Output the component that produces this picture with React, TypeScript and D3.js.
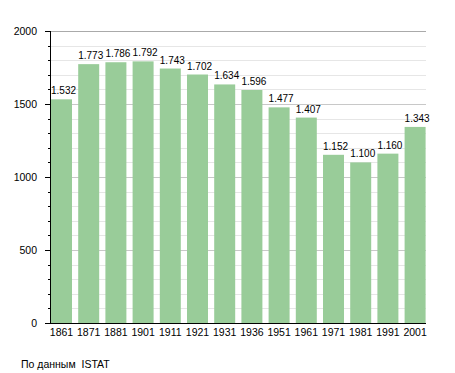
import React, { useEffect, useRef } from "react";
import * as d3 from "d3";

const years = ["1861", "1871", "1881", "1901", "1911", "1921", "1931", "1936", "1951", "1961", "1971", "1981", "1991", "2001"];
const population = [1532, 1773, 1786, 1792, 1743, 1702, 1634, 1596, 1477, 1407, 1152, 1100, 1160, 1343];
const yTicks = [0, 500, 1000, 1500, 2000];
const source = "По данным  ISTAT";

const App = () => {
  const svgRef = useRef<SVGSVGElement>(null);

  useEffect(() => {
    const width = 455, height = 373;
    const left = 50, right = 426, top = 31, bottom = 323;

    const svg = d3.select(svgRef.current);
    svg.selectAll("*").remove();
    svg.attr("width", width).attr("height", height);

    const font = "Liberation Sans, Arial, sans-serif";

    const x = d3.scaleBand<string>()
      .domain(years)
      .range([47.9, 428.7])
      .paddingInner(0.228)
      .paddingOuter(0.114);

    const y = d3.scaleLinear().domain([0, 2000]).range([bottom, top]);

    // grid lines every 100, darker every 500
    const grid = svg.append("g");
    d3.range(100, 2001, 100).forEach((v) => {
      grid.append("line")
        .attr("x1", left)
        .attr("x2", right)
        .attr("y1", Math.round(y(v)) + 0.5)
        .attr("y2", Math.round(y(v)) + 0.5)
        .attr("stroke", v === 2000 ? "#aaaaaa" : v % 500 === 0 ? "#c8c8c8" : "#e6e6e6")
        .attr("stroke-width", 1);
    });

    // bars
    svg.append("g")
      .selectAll("rect")
      .data(population)
      .enter()
      .append("rect")
      .attr("x", (d, i) => x(years[i])!)
      .attr("y", (d) => y(d))
      .attr("width", x.bandwidth())
      .attr("height", (d) => bottom - y(d))
      .attr("fill", "#99cc99");

    // value labels
    svg.append("g")
      .selectAll("text")
      .data(population)
      .enter()
      .append("text")
      .attr("x", (d, i) => x(years[i])!)
      .attr("y", (d) => y(d) - 5)
      .attr("font-family", font)
      .attr("font-size", 10)
      .attr("fill", "#000")
      .text((d) => d3.format(",")(d).replace(",", "."));

    // y axis
    const yAxis = svg.append("g");
    yAxis.append("line")
      .attr("x1", left + 0.5).attr("x2", left + 0.5)
      .attr("y1", top).attr("y2", bottom)
      .attr("stroke", "#000");
    d3.range(0, 2001, 100).forEach((v) => {
      const major = v % 500 === 0;
      yAxis.append("line")
        .attr("x1", major ? left - 5 : left - 2)
        .attr("x2", left)
        .attr("y1", Math.round(y(v)) + 0.5)
        .attr("y2", Math.round(y(v)) + 0.5)
        .attr("stroke", "#000");
    });
    yAxis.selectAll("text")
      .data(yTicks)
      .enter()
      .append("text")
      .attr("x", 37)
      .attr("y", (d) => y(d) + 4)
      .attr("text-anchor", "end")
      .attr("font-family", font)
      .attr("font-size", 10.5)
      .text((d) => d);

    // x axis
    svg.append("line")
      .attr("x1", left - 5).attr("x2", right)
      .attr("y1", bottom + 0.5).attr("y2", bottom + 0.5)
      .attr("stroke", "#000");
    svg.append("g")
      .selectAll("text")
      .data(years)
      .enter()
      .append("text")
      .attr("x", (d) => x(d)! + x.bandwidth() / 2)
      .attr("y", bottom + 13)
      .attr("text-anchor", "middle")
      .attr("font-family", font)
      .attr("font-size", 10.5)
      .text((d) => d);

    svg.append("text")
      .attr("x", 21)
      .attr("y", 368)
      .attr("font-family", font)
      .attr("font-size", 10.5)
      .attr("xml:space", "preserve")
      .style("white-space", "pre")
      .text(source);
  }, []);

  return <svg ref={svgRef} style={{ position: "absolute", left: 0, top: 0, background: "#fff" }} />;
};

export default App;
